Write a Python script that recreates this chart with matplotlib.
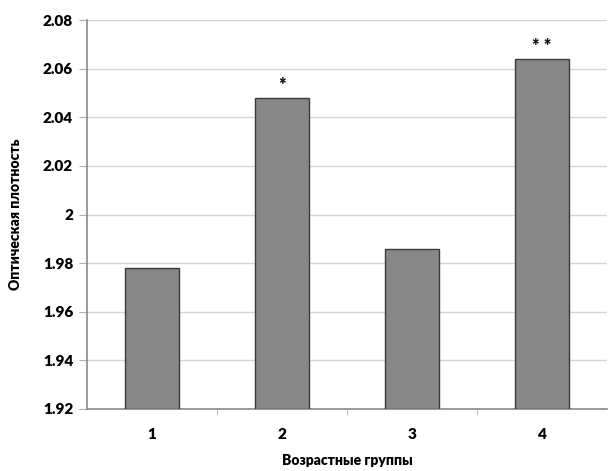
import matplotlib
matplotlib.use("Agg")
import matplotlib.pyplot as plt
from matplotlib.ticker import FuncFormatter, FixedLocator

groups = ["1", "2", "3", "4"]
values = [1.978, 2.048, 1.986, 2.064]
marks = ["", "*", "", "* *"]
yticks = [1.92, 1.94, 1.96, 1.98, 2.00, 2.02, 2.04, 2.06, 2.08]

plt.rcParams["font.family"] = ["Lato", "DejaVu Sans"]
plt.rcParams["font.weight"] = "heavy"

fig = plt.figure(figsize=(6.08, 4.71), dpi=100)
ax = fig.add_axes([87 / 608, 1 - 409 / 471, 520 / 608, 389 / 471])

x = list(range(1, len(groups) + 1))
ax.bar(x, [v - 1.92 for v in values], bottom=1.92, width=0.41,
       color="#878787", edgecolor="#3a3a3a", linewidth=1.0, zorder=3)

for xi, v, m in zip(x, values, marks):
    if m:
        ax.text(xi, v + 0.0015, m, ha="center", va="bottom", fontsize=13,
                fontweight="heavy", color="#111111")

ax.set_xlim(0.5, 4.5)
ax.set_ylim(1.92, 2.08)
ax.set_yticks(yticks)
ax.yaxis.set_major_formatter(FuncFormatter(lambda v, p: f"{v:g}"))
ax.grid(axis="y", color="#d4d4d4", linewidth=1.0, zorder=0)

ax.set_xticks(x)
ax.set_xticklabels(groups)
ax.xaxis.set_minor_locator(FixedLocator([1.5, 2.5, 3.5]))
ax.tick_params(axis="x", which="major", length=0, pad=14, labelsize=11)
ax.tick_params(axis="x", which="minor", length=4, color="#b0b0b0")
ax.tick_params(axis="y", length=6, color="#b0b0b0", labelsize=11, pad=4)

for side in ("top", "right"):
    ax.spines[side].set_visible(False)
for side in ("left", "bottom"):
    ax.spines[side].set_color("#8a8a8a")
    ax.spines[side].set_linewidth(1.2)

ax.set_xlabel("Возрастные группы", fontsize=10, fontweight="heavy", labelpad=9)
ax.set_ylabel("Оптическая плотность", fontsize=10, fontweight="heavy", labelpad=15)

fig.savefig("out.png", dpi=100)
